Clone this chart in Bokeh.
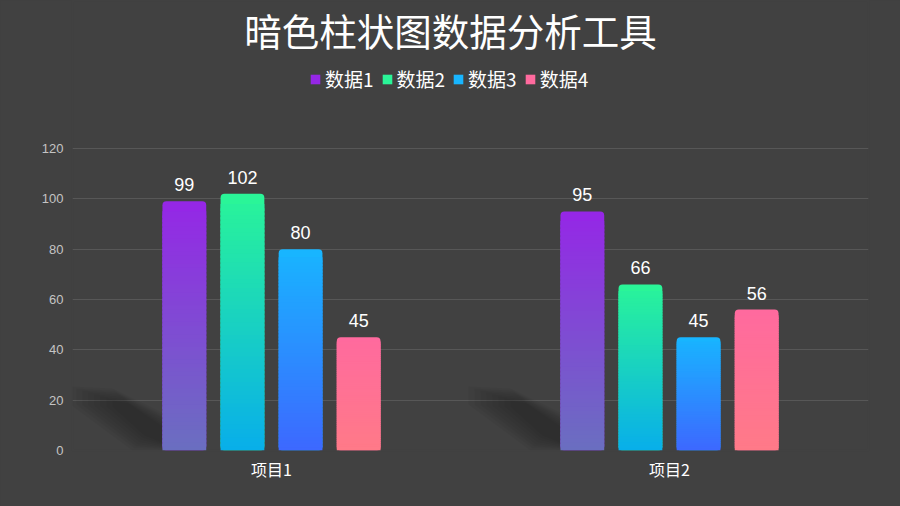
import numpy as np
from bokeh.plotting import figure
from bokeh.models import (ColumnDataSource, FactorRange, Range1d, FixedTicker, Legend,
                          LegendItem, Label, PolyAnnotation)
from bokeh.transform import dodge
from bokeh.core.properties import value
from bokeh.embed import file_html
from bokeh.resources import INLINE

# ---- data ----
categories = ["项目1", "项目2"]
series_names = ["数据1", "数据2", "数据3", "数据4"]
data1 = [99, 95]
data2 = [102, 66]
data3 = [80, 45]
data4 = [45, 56]
y_ticks = [0, 20, 40, 60, 80, 100, 120]
title_text = "暗色柱状图数据分析工具"

# ---- style ----
values = [data1, data2, data3, data4]
top_colors = ["#9527e6", "#2af598", "#18b5ff", "#ff6a9e"]
bottom_colors = ["#6a6fc0", "#08aeea", "#3d68ff", "#ff7a88"]
offsets = [-0.219, -0.073, 0.073, 0.219]
BAR_W = 0.11
BG = "#414141"
CJK = "Noto Sans CJK SC"
N_SEG = 60
PX_X = 398.0      # pixels per category unit
PX_Y = 302.0 / 120  # pixels per value unit


def hex2rgb(h):
    h = h.lstrip("#")
    return [int(h[i:i + 2], 16) for i in (0, 2, 4)]


def mix(c_top, c_bot, t):
    a, b = hex2rgb(c_top), hex2rgb(c_bot)
    return "#%02x%02x%02x" % tuple(int(round(b[i] + (a[i] - b[i]) * t)) for i in range(3))


p = figure(width=900, height=506,
           x_range=FactorRange(factors=categories, range_padding=0),
           y_range=Range1d(0, 178.81),
           output_backend="svg", toolbar_location=None,
           min_border_left=72, min_border_right=32, min_border_top=0, min_border_bottom=56,
           background_fill_color=BG, border_fill_color=BG)
p.outline_line_color = BG
p.outline_line_width = 2
p.styles = {"background-color": BG}

title = Label(x=378, y=421, x_units="screen", y_units="screen", text=title_text,
              text_align="center", text_baseline="middle", text_color="#ffffff",
              text_font=CJK, text_font_size="37.5px")
p.add_layout(title)

ticker = FixedTicker(ticks=y_ticks)
p.yaxis.ticker = ticker
p.ygrid.ticker = ticker
p.ygrid.grid_line_color = "#575757"
p.ygrid.grid_line_width = 1
p.xgrid.grid_line_color = None

for ax in (p.xaxis, p.yaxis):
    ax.axis_line_color = None
    ax.major_tick_line_color = None
    ax.minor_tick_line_color = None
    ax.major_tick_out = 0
    ax.major_tick_in = 0
    ax.minor_tick_out = 0
p.yaxis.major_label_text_color = "#c4c4c4"
p.yaxis.major_label_text_font_size = "13px"
p.yaxis.major_label_text_font = "Liberation Sans"
p.yaxis.major_label_standoff = 9
p.xaxis.major_label_text_color = "#ffffff"
p.xaxis.major_label_text_font_size = "16px"
p.xaxis.major_label_text_font = CJK
p.xaxis.major_label_standoff = 6

# soft diagonal shadows to the left of each group (decoration, pixel offsets from bar foot)
shadow_outer = [(-92, 64), (-50, 62), (0, 38), (0, 0), (-30, 0), (-92, 46)]
shadow_inner = [(-50, 50), (-34, 47), (0, 24), (0, 8), (-18, 15), (-50, 44)]
N_SHADOW = 8
for i in range(len(categories)):
    bar_left = i + 0.5 + offsets[0] - BAR_W / 2
    for j in range(N_SHADOW):
        t = j / (N_SHADOW - 1)
        pts = [(o[0] + (n[0] - o[0]) * t, o[1] + (n[1] - o[1]) * t)
               for o, n in zip(shadow_outer, shadow_inner)]
        p.add_layout(PolyAnnotation(
            xs=[bar_left + dx / PX_X for dx, dy in pts],
            ys=[dy / PX_Y for dx, dy in pts],
            fill_color="#000000", fill_alpha=0.035, line_color=None, level="underlay"))

legend_items = []
for s, name in enumerate(series_names):
    vals = values[s]
    xr = dodge("cat", offsets[s], range=p.x_range)
    full = ColumnDataSource(dict(cat=categories, val=vals, label=[str(v) for v in vals]))
    r = p.vbar(x=xr, top="val", width=BAR_W, source=full,
               fill_color=top_colors[s], line_color=None, border_radius=4)
    cats, bots, tops, cols = [], [], [], []
    for c, v in zip(categories, vals):
        for k in range(N_SEG - 3):
            cats.append(c)
            bots.append(v * k / N_SEG)
            tops.append(v * (k + 1.6) / N_SEG)
            cols.append(mix(top_colors[s], bottom_colors[s], (k + 0.5) / N_SEG))
    seg = ColumnDataSource(dict(cat=cats, bottom=bots, top=tops, color=cols))
    p.vbar(x=xr, bottom="bottom", top="top", width=BAR_W, source=seg,
           fill_color="color", line_color=None)
    p.text(x=xr, y="val", text="label", source=full, text_align="center",
           text_baseline="bottom", y_offset=-10, text_color="#ffffff",
           text_font_size="18px", text_font=value("Liberation Sans"))
    legend_items.append(LegendItem(label=name, renderers=[r]))

legend = Legend(items=legend_items, orientation="horizontal", location=(237, 358),
                label_text_color="#ffffff", label_text_font=CJK, label_text_font_size="19px",
                glyph_width=12, glyph_height=12, label_standoff=4, spacing=7,
                padding=0, margin=0, background_fill_alpha=0, border_line_color=None)
p.add_layout(legend)

open("out.html", "w").write(file_html(p, INLINE))
